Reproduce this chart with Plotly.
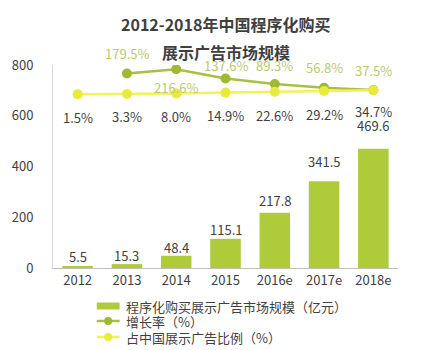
import plotly.graph_objects as go

years = ["2012", "2013", "2014", "2015", "2016e", "2017e", "2018e"]
market_size = [5.5, 15.3, 48.4, 115.1, 217.8, 341.5, 469.6]        # 亿元
growth_years = ["2013", "2014", "2015", "2016e", "2017e", "2018e"]
growth_rate = [179.5, 216.6, 137.6, 89.3, 56.8, 37.5]                # %
display_share = [1.5, 3.3, 8.0, 14.9, 22.6, 29.2, 34.7]              # %
legend_names = ["程序化购买展示广告市场规模（亿元）", "增长率（%）", "占中国展示广告比例（%）"]

FONT = "Noto Sans CJK SC"
TEXT = "#3f3f3f"
BAR = "#afcb3a"
GROWTH = "#a8c040"
GROWTH_MARK = "#9fb934"
GROWTH_TEXT = "#bcc872"
SHARE = "#f2f25c"
SHARE_MARK = "#e9eb3c"

# category positions on a numeric axis, labelled with the year strings
xpos = list(range(len(years)))
growth_pos = [years.index(y) for y in growth_years]

# plot area in pixels (used to place the hand-drawn legend)
W, H = 433, 350
L, R, T, B = 51, 35, 65, 82
PW, PH = W - L - R, H - T - B


def px(xp):
    return (xp - L) / PW


def py(yp):
    return (H - B - yp) / PH


fig = go.Figure()

fig.add_trace(go.Bar(
    x=xpos, y=market_size, name=legend_names[0],
    marker=dict(color=BAR, line=dict(width=0)), width=0.62,
))
fig.add_trace(go.Scatter(
    x=growth_pos, y=growth_rate, name=legend_names[1], yaxis="y2",
    mode="lines+markers", line=dict(color=GROWTH, width=2.5),
    marker=dict(color=GROWTH_MARK, size=10),
))
fig.add_trace(go.Scatter(
    x=xpos, y=display_share, name=legend_names[2], yaxis="y2",
    mode="lines+markers", line=dict(color=SHARE, width=2.5),
    marker=dict(color=SHARE_MARK, size=10),
))

annotations = []
# bar value labels
bar_shift = [10, 9, 8, 9, 12, 20, 23]
for x, v, s in zip(xpos, market_size, bar_shift):
    annotations.append(dict(x=x, y=v, xref="x", yref="y", text=f"{v:.1f}",
                            showarrow=False, yshift=s,
                            font=dict(size=13, color=TEXT, family=FONT)))
# growth rate labels
growth_shift = [20, -18, 13, 19, 20, 20]
for x, v, s in zip(growth_pos, growth_rate, growth_shift):
    annotations.append(dict(x=x, y=v, xref="x", yref="y2", text=f"{v:.1f}%",
                            showarrow=False, yshift=s,
                            font=dict(size=13, color=GROWTH_TEXT, family=FONT)))
# share labels
share_shift = [-23, -23, -23, -23, -24, -24, -21]
for x, v, s in zip(xpos, display_share, share_shift):
    annotations.append(dict(x=x, y=v, xref="x", yref="y2", text=f"{v:.1f}%",
                            showarrow=False, yshift=s,
                            font=dict(size=13, color=TEXT, family=FONT)))

# two-line title
for line, yp in [("2012-2018年中国程序化购买", 24), ("展示广告市场规模", 52)]:
    annotations.append(dict(x=0.5, y=py(yp), xref="paper", yref="paper",
                            xanchor="center", yanchor="middle", showarrow=False,
                            text=f"<b>{line}</b>",
                            font=dict(size=16, color=TEXT, family=FONT)))

# compact legend: symbol + label rows
shapes = []
rows = [306, 321, 337]
sx0, sx1, smid, tx = 95, 118, 106.5, 122
shapes.append(dict(type="rect", xref="paper", yref="paper",
                   x0=px(sx0), x1=px(sx1), y0=py(rows[0] + 3.5), y1=py(rows[0] - 3.5),
                   fillcolor=BAR, line=dict(width=0)))
for row, lc, mc in [(rows[1], GROWTH, GROWTH_MARK), (rows[2], SHARE, SHARE_MARK)]:
    shapes.append(dict(type="line", xref="paper", yref="paper",
                       x0=px(sx0), x1=px(sx1), y0=py(row), y1=py(row),
                       line=dict(color=lc, width=2.5)))
    shapes.append(dict(type="circle", xref="paper", yref="paper",
                       x0=px(smid - 4), x1=px(smid + 4), y0=py(row + 4), y1=py(row - 4),
                       fillcolor=mc, line=dict(width=0)))
for name, row in zip(legend_names, rows):
    annotations.append(dict(x=px(tx), y=py(row), xref="paper", yref="paper",
                            xanchor="left", yanchor="middle", showarrow=False,
                            text=name, font=dict(size=13, color=TEXT, family=FONT)))

fig.update_layout(
    width=W, height=H,
    margin=dict(l=L, r=R, t=T, b=B),
    paper_bgcolor="white", plot_bgcolor="white",
    font=dict(family=FONT, color=TEXT, size=13),
    showlegend=False,
    xaxis=dict(range=[-0.5, len(years) - 0.5], tickvals=xpos, ticktext=years,
               showgrid=False, showline=True, linecolor="#bfbfbf", zeroline=False,
               linewidth=1, ticks="", tickfont=dict(size=13, color=TEXT)),
    yaxis=dict(range=[0, 800], tickvals=[0, 200, 400, 600, 800], showgrid=False,
               showline=True, linecolor="#d9d9d9", linewidth=1, zeroline=False,
               ticks="", tickfont=dict(size=13, color=TEXT), ticklabelstandoff=16),
    yaxis2=dict(range=[-1502, 253.7], overlaying="y", side="right",
                visible=False, showgrid=False, zeroline=False),
    annotations=annotations,
    shapes=shapes,
)

fig.write_html("out.html")
